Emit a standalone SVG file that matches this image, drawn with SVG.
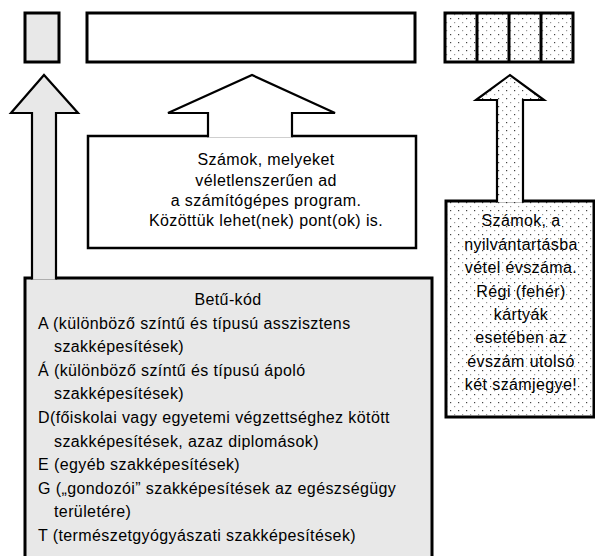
<svg xmlns="http://www.w3.org/2000/svg" width="595" height="556" viewBox="0 0 595 556">
<defs>
<pattern id="dots" patternUnits="userSpaceOnUse" width="8" height="8">
<rect width="8" height="8" fill="#ffffff"/>
<rect x="2" y="2" width="1.2" height="1.2" fill="#444"/>
<rect x="6" y="6" width="1.2" height="1.2" fill="#999"/>
</pattern>
<style>
.box{stroke:#000;stroke-width:3}
.gray{fill:#e8e8e8}
.white{fill:#fff}
.dot{fill:url(#dots)}
.arrow{stroke:#000;stroke-width:2.2;stroke-linejoin:miter}
text{font-family:"Liberation Sans",Arial,sans-serif;font-size:16px;letter-spacing:0.4px;fill:#000}
.c{text-anchor:middle}
</style>
</defs>
<rect width="595" height="556" fill="#fff"/>
<g id="code-letter-field">
<rect class="box gray" x="25" y="13" width="34" height="49"/>
</g>
<g id="number-field">
<rect class="box white" x="87" y="13" width="328" height="49"/>
</g>
<g id="year-field">
<rect class="box dot" x="445" y="13" width="128" height="49"/>
<line class="box" x1="477" y1="13" x2="477" y2="62"/>
<line class="box" x1="509" y1="13" x2="509" y2="62"/>
<line class="box" x1="541" y1="13" x2="541" y2="62"/>
</g>
<g id="letter-code-box">
<rect class="box gray" x="25" y="278" width="407" height="290"/>
<text class="c" x="228" y="305">Betű-kód</text>
<text x="38" y="328.6">A (különböző színtű és típusú asszisztens</text>
<text x="54" y="352.2">szakképesítések)</text>
<text x="38" y="375.8">Á (különböző színtű és típusú ápoló</text>
<text x="54" y="399.4">szakképesítések)</text>
<text x="38" y="423">D(főiskolai vagy egyetemi végzettséghez kötött</text>
<text x="54" y="446.6">szakképesítések, azaz diplomások)</text>
<text x="38" y="470.2">E (egyéb szakképesítések)</text>
<text x="38" y="493.8">G („gondozói” szakképesítések az egészségügy</text>
<text x="54" y="517.4">területére)</text>
<text x="38" y="541">T (természetgyógyászati szakképesítések)</text>
</g>
<g id="random-number-box">
<rect class="box white" x="88" y="136" width="328" height="112" style="stroke-width:2.5"/>
<text class="c" x="266" y="165">Számok, melyeket</text>
<text class="c" x="266" y="186">véletlenszerűen ad</text>
<text class="c" x="266" y="206">a számítógépes program.</text>
<text class="c" x="266" y="226">Közöttük lehet(nek) pont(ok) is.</text>
</g>
<g id="year-box">
<rect class="box dot" x="446" y="201" width="148" height="216"/>
<text class="c" x="521" y="226">Számok, a</text>
<text class="c" x="521" y="250">nyilvántartásba</text>
<text class="c" x="521" y="273">vétel évszáma.</text>
<text class="c" x="521" y="297">Régi (fehér)</text>
<text class="c" x="521" y="320">kártyák</text>
<text class="c" x="521" y="343">esetében az</text>
<text class="c" x="521" y="367">évszám utolsó</text>
<text class="c" x="521" y="390">két számjegye!</text>
</g>
<g id="connectors">
<path class="arrow gray" d="M32,279.5 V113 H11 L44,75 L78,113 H56 V279.5"/>
<path class="arrow white" d="M208,137.3 V113 H168 L252,75 L335,113 H292 V137.3"/>
<path class="arrow dot" d="M497,202.5 V100 H476 L510,75 L544,100 H523 V202.5"/>
</g>
</svg>
